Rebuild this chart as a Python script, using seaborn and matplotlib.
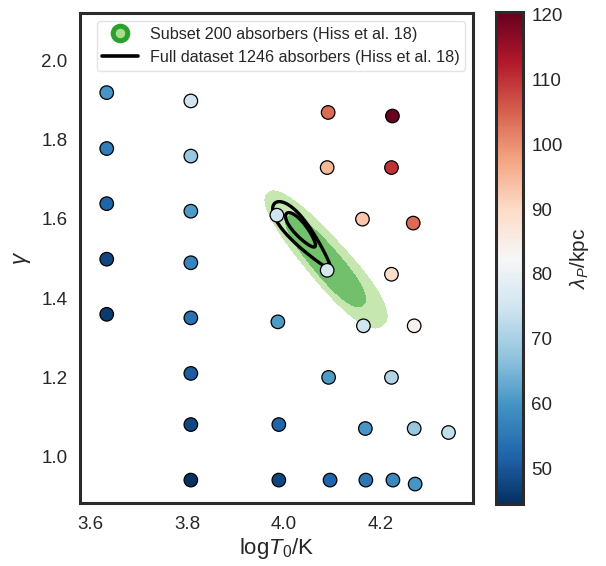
import numpy as np
import pandas as pd
import matplotlib
matplotlib.use("Agg")
import matplotlib.pyplot as plt
import matplotlib.colors as mcolors
from matplotlib.lines import Line2D
import seaborn as sns

# ---------------- data ----------------
logT0 = [3.634, 3.634, 3.634, 3.634, 3.634,
         3.808, 3.808, 3.808, 3.808, 3.808, 3.808, 3.808, 3.808,
         3.986, 3.988, 3.990, 3.990,
         4.092, 4.090, 4.090, 4.093, 4.096,
         4.163, 4.165, 4.169, 4.170,
         4.225, 4.223, 4.223, 4.223, 4.226,
         4.268, 4.270, 4.270, 4.272,
         4.341]
gamma = [1.918, 1.777, 1.638, 1.498, 1.359,
         1.897, 1.758, 1.619, 1.489, 1.350, 1.210, 1.081, 0.941,
         1.609, 1.340, 1.081, 0.941,
         1.868, 1.729, 1.470, 1.200, 0.941,
         1.599, 1.330, 1.071, 0.941,
         1.859, 1.729, 1.460, 1.200, 0.941,
         1.589, 1.330, 1.071, 0.931,
         1.061]
lambda_P = [60, 56, 52, 48, 46,
            75, 68, 61, 57, 54, 51, 48, 45,
            75, 61, 52, 48,
            104, 95, 76, 61, 52,
            93, 75, 60, 55,
            120, 110, 89, 71, 58,
            104, 84, 68, 60,
            73]
lam_range = [44.5, 120.4]
cbar_ticks = [50, 60, 70, 80, 90, 100, 110, 120]
x_ticks = [3.6, 3.8, 4.0, 4.2]
y_ticks = [1.0, 1.2, 1.4, 1.6, 1.8, 2.0]

# credible-region outlines:
# (end 1 of long axis, end 2 of long axis) in data units
subset_outer_ends = [(3.9675, 1.6647), (4.2054, 1.3320)]
subset_inner_ends = [(4.0089, 1.6042), (4.1640, 1.3824)]
full_outer_ends = [(3.9820, 1.6395), (4.0958, 1.4757)]
full_inner_ends = [(4.0062, 1.6136), (4.0647, 1.5294)]

legend_labels = ["Subset 200 absorbers (Hiss et al. 18)",
                 "Full dataset 1246 absorbers (Hiss et al. 18)"]

# ---------------- style ----------------
sns.set_style("white")
plt.rcParams["font.family"] = ["Liberation Sans", "DejaVu Sans"]
plt.rcParams["mathtext.fontset"] = "custom"
plt.rcParams["mathtext.rm"] = "Liberation Sans"
plt.rcParams["mathtext.it"] = "Liberation Sans:italic"
plt.rcParams["mathtext.bf"] = "Liberation Sans:bold"
text_c = "#262626"

fig = plt.figure(figsize=(6.06, 5.66), dpi=100)
ax = fig.add_axes([0.132, 0.1108, 0.648, 0.8657])
cax = fig.add_axes([0.8185, 0.1095, 0.0446, 0.869])

ax.set_xlim(3.5787, 4.391)
ax.set_ylim(0.8825, 2.118)

df = pd.DataFrame({"logT0": logT0, "gamma": gamma, "lam": lambda_P})

gx = np.linspace(3.85, 4.35, 500)
gy = np.linspace(1.2, 1.8, 500)
GX, GY = np.meshgrid(gx, gy)


def region_field(ends, half_width_pt, taper=0.0, power=2.0):
    """Distance-like field (1 on the outline) around the long axis given by
    its two ends, computed in display space via the axes' data transform."""
    T = ax.transData
    pts = T.transform(np.column_stack([GX.ravel(), GY.ravel()]))
    e = T.transform(np.asarray(ends))
    c = e.mean(axis=0)
    d = e[1] - e[0]
    L = np.hypot(*d) / 2.0
    u = d / (2.0 * L)
    rel = pts - c
    along = rel @ u
    perp = rel @ np.array([-u[1], u[0]])
    t = np.clip(along / L, -1, 1)
    hw = half_width_pt * fig.dpi / 72.0 * (1.0 - taper * t)
    f = (np.abs(along / L) ** power + np.abs(perp / hw) ** power) ** (1.0 / power)
    return f.reshape(GX.shape)


F1 = region_field(subset_outer_ends, 15.0, taper=-0.1, power=2.4)
F2 = region_field(subset_inner_ends, 10.0, taper=-0.05, power=2.4)
ax.contourf(GX, GY, F1, levels=[0, 1], colors=["#c6e8b0"], zorder=1)
ax.contourf(GX, GY, F2, levels=[0, 1], colors=["#72c06c"], zorder=1.1)

F3 = region_field(full_outer_ends, 7.6, taper=0.45, power=2.0)
F4 = region_field(full_inner_ends, 4.6, taper=0.2, power=2.0)
ax.contour(GX, GY, F3, levels=[1], colors="black", linewidths=2.4, zorder=2)
ax.contour(GX, GY, F4, levels=[1], colors="black", linewidths=2.4, zorder=2)

norm = mcolors.Normalize(vmin=lam_range[0], vmax=lam_range[1])
sns.scatterplot(data=df, x="logT0", y="gamma", hue="lam", palette="RdBu_r",
                hue_norm=norm, s=95, edgecolor="black", linewidth=0.9,
                legend=False, ax=ax, zorder=3)

ax.set_xlim(3.5787, 4.391)
ax.set_ylim(0.8825, 2.118)
ax.set_xticks(x_ticks)
ax.set_yticks(y_ticks)
ax.set_xticklabels([f"{v:.1f}" for v in x_ticks])
ax.set_yticklabels([f"{v:.1f}" for v in y_ticks])
ax.tick_params(labelsize=13.5, colors=text_c, length=0, pad=9)
ax.set_xlabel(r"log$T_0$/K", fontsize=16, color=text_c, labelpad=2)
ax.set_ylabel(r"$\gamma$", fontsize=16, color=text_c, labelpad=6)
for sp in ax.spines.values():
    sp.set_linewidth(2.2)
    sp.set_color("#2b2b2b")

handles = [Line2D([], [], marker="o", linestyle="none", markersize=10.5,
                  markerfacecolor="#a8dc90", markeredgecolor="#2ca02c",
                  markeredgewidth=3.6),
           Line2D([], [], color="black", linewidth=2.6)]
leg = ax.legend(handles, legend_labels, loc="upper center",
                bbox_to_anchor=(0.512, 1.0), borderaxespad=0.5,
                fontsize=11.6, frameon=True, handlelength=2.2,
                handletextpad=0.75, borderpad=0.35, labelspacing=0.5)
leg.get_frame().set_edgecolor("#dddddd")
for t in leg.get_texts():
    t.set_color(text_c)

sm = matplotlib.cm.ScalarMappable(norm=norm, cmap="RdBu_r")
cb = fig.colorbar(sm, cax=cax, ticks=cbar_ticks)
cb.outline.set_linewidth(2.2)
cb.outline.set_edgecolor("#2b2b2b")
cax.tick_params(labelsize=13.5, colors=text_c, length=0, pad=6)
cb.set_label(r"$\lambda_P$/kpc", fontsize=15, color=text_c, labelpad=4)

fig.savefig("out.png", dpi=100)
